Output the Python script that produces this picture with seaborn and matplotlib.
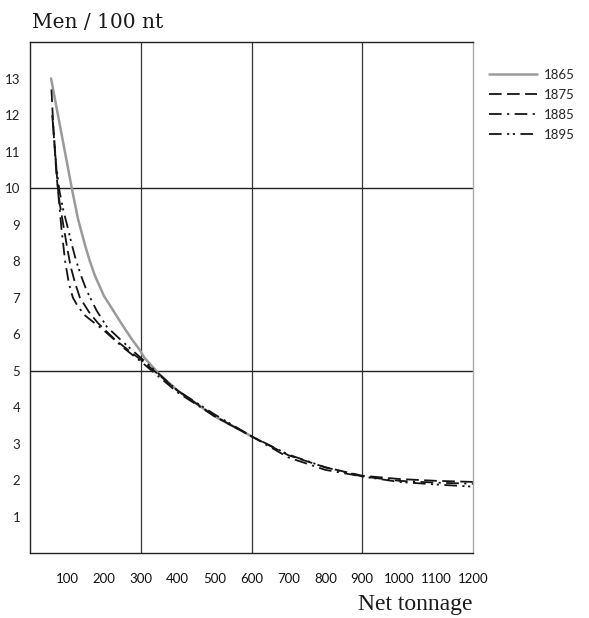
import matplotlib
matplotlib.use("Agg")
import matplotlib.pyplot as plt
import seaborn as sns
import pandas as pd

# Manning (men per 100 net tons) against vessel size, by year
tonnage_1865 = [57, 70, 85, 100, 113, 130, 150, 162, 175, 200, 225, 250, 275, 297, 310, 350, 400, 500, 600]
men_1865 = [13.0, 12.3, 11.5, 10.7, 10.0, 9.15, 8.4, 8.0, 7.62, 7.05, 6.65, 6.25, 5.87, 5.57, 5.35, 4.9, 4.45, 3.75, 3.2]

tonnage_1875 = [58, 64, 72, 80, 90, 100, 110, 122, 135, 160, 184, 230, 280, 300, 400, 500, 600, 700, 800, 900, 1000, 1100, 1200]
men_1875 = [12.7, 11.5, 10.3, 9.6, 9.0, 8.4, 7.85, 7.4, 7.0, 6.6, 6.3, 5.85, 5.45, 5.3, 4.45, 3.75, 3.2, 2.68, 2.35, 2.12, 2.03, 1.98, 1.95]

tonnage_1885 = [60, 68, 76, 85, 95, 105, 116, 130, 150, 175, 200, 250, 300, 400, 500, 600, 700, 800, 900, 1000, 1100, 1200]
men_1885 = [12.0, 11.0, 9.9, 8.9, 8.0, 7.4, 7.0, 6.75, 6.5, 6.3, 6.1, 5.65, 5.25, 4.4, 3.75, 3.2, 2.62, 2.28, 2.1, 1.98, 1.93, 1.9]

tonnage_1895 = [62, 70, 80, 90, 100, 112, 125, 140, 153, 180, 208, 250, 300, 400, 500, 600, 700, 800, 900, 1000, 1100, 1200]
men_1895 = [11.8, 10.7, 9.9, 9.4, 9.0, 8.5, 8.0, 7.55, 7.2, 6.65, 6.2, 5.8, 5.35, 4.45, 3.8, 3.2, 2.7, 2.35, 2.1, 1.95, 1.88, 1.82]

years = ["1865", "1875", "1885", "1895"]
x_ticks = [100, 200, 300, 400, 500, 600, 700, 800, 900, 1000, 1100, 1200]
y_ticks = list(range(1, 14))

frames = []
for yr, xs, ys in zip(years,
                      [tonnage_1865, tonnage_1875, tonnage_1885, tonnage_1895],
                      [men_1865, men_1875, men_1885, men_1895]):
    frames.append(pd.DataFrame({"tonnage": xs, "men": ys, "year": yr}))
df = pd.concat(frames, ignore_index=True)

sns.set_style("white")
plt.rcParams["font.family"] = ["Lato", "DejaVu Sans"]

fig = plt.figure(figsize=(5.89, 6.18), dpi=100)
ax = fig.add_axes([0.051, 0.105, 0.752, 0.827])

palette = {"1865": "#9a9a9a", "1875": "#151515", "1885": "#151515", "1895": "#151515"}
dashes = {"1865": "", "1875": (7, 3), "1885": (7, 3, 1.2, 3), "1895": (7, 3, 1.2, 2, 1.2, 3)}

sns.lineplot(data=df, x="tonnage", y="men", hue="year", style="year",
             palette=palette, dashes=dashes, sort=True, estimator=None,
             linewidth=1.3, ax=ax, legend=True)
ax.lines[0].set_linewidth(1.8)

ax.set_xlim(0, 1200)
ax.set_ylim(0, 14)
ax.set_xticks(x_ticks)
ax.set_yticks(y_ticks)
ax.tick_params(axis="x", direction="in", length=3, width=0.6, colors="#bbbbbb",
               labelcolor="#111111", labelsize=9.5, pad=14)
ax.tick_params(axis="y", direction="out", length=4, width=0.9, colors="#222222",
               labelsize=9.5, pad=3)

# Grid: verticals every 300 t, horizontals at 5 and 10 men
for gx in [300, 600, 900]:
    ax.axvline(gx, color="#333333", linewidth=0.9, zorder=0)
for gy in [5, 10]:
    ax.axhline(gy, color="#222222", linewidth=1.0, zorder=0)

for side in ["left", "bottom", "top"]:
    ax.spines[side].set_color("#222222")
    ax.spines[side].set_linewidth(1.0)
ax.spines["right"].set_color("#aaaaaa")
ax.spines["right"].set_linewidth(1.0)

ax.set_xlabel("")
ax.set_ylabel("")
fig.text(0.055, 0.963, "Men / 100 nt", fontsize=14.5, family=["DejaVu Serif"],
         ha="left", va="center", color="#1a1a1a")
fig.text(0.803, 0.022, "Net tonnage", fontsize=17, family=["Liberation Serif"],
         ha="right", va="center", color="#1a1a1a")

leg = ax.legend(loc="upper left", bbox_to_anchor=(1.025, 0.958), frameon=False,
                fontsize=9.5, handlelength=3.6, handletextpad=0.5, labelspacing=0.6,
                borderaxespad=0)
leg.get_lines()[0].set_linewidth(1.8)

fig.savefig("out.png", dpi=100, facecolor="white")
